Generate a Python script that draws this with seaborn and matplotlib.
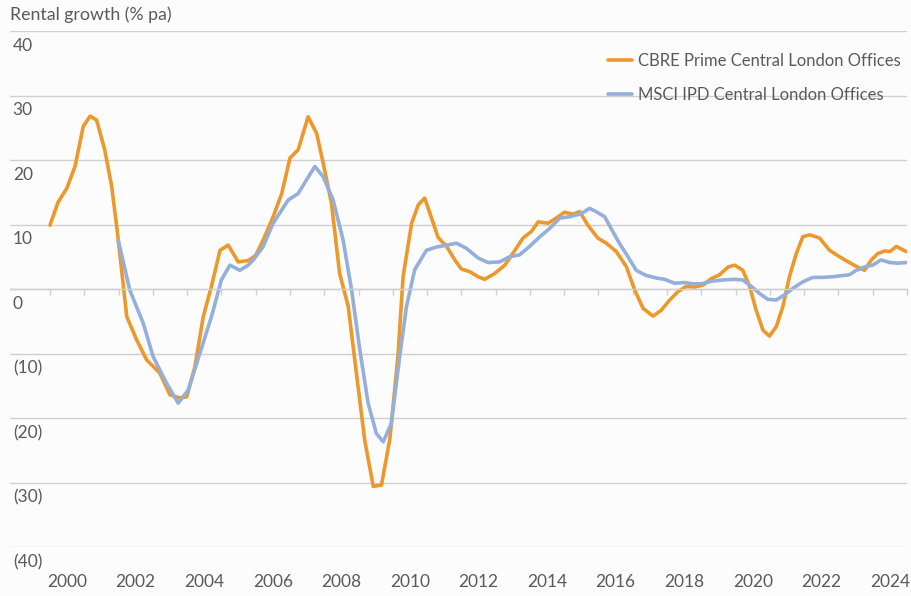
import numpy as np
import pandas as pd
import seaborn as sns
import matplotlib.pyplot as plt

# CBRE Prime Central London Offices - rental growth (% pa)
cbre_year = [2000.0, 2000.24, 2000.49, 2000.73, 2000.97, 2001.17, 2001.36, 2001.6, 2001.8, 2001.96,
             2002.09, 2002.24, 2002.53, 2002.82, 2003.2, 2003.5, 2003.79, 2003.99, 2004.23, 2004.47,
             2004.71, 2004.96, 2005.2, 2005.49, 2005.78, 2006.0, 2006.22, 2006.51, 2006.76, 2007.0,
             2007.24, 2007.53, 2007.78, 2007.97, 2008.21, 2008.45, 2008.7, 2008.94, 2009.18, 2009.43,
             2009.67, 2009.91, 2010.15, 2010.3, 2010.55, 2010.74, 2010.93, 2011.13, 2011.32, 2011.57,
             2011.81, 2012.0, 2012.24, 2012.49, 2012.68, 2012.97, 2013.27, 2013.56, 2013.8, 2014.04,
             2014.24, 2014.53, 2014.77, 2015.01, 2015.26, 2015.45, 2015.69, 2015.98, 2016.23, 2016.52,
             2016.81, 2017.06, 2017.3, 2017.59, 2017.83, 2018.08, 2018.32, 2018.56, 2018.8, 2019.05,
             2019.29, 2019.53, 2019.78, 2019.97, 2020.21, 2020.41, 2020.6, 2020.8, 2020.99, 2021.19,
             2021.38, 2021.57, 2021.77, 2021.96, 2022.16, 2022.45, 2022.74, 2023.03, 2023.32, 2023.56,
             2023.76, 2023.96, 2024.15, 2024.35, 2024.5, 2024.69, 2024.98]
cbre_growth = [9.9, 13.5, 15.6, 19.0, 25.2, 26.8, 26.2, 21.5, 15.9, 9.1,
               2.9, -4.3, -7.9, -11.0, -13.0, -16.4, -16.9, -16.7, -12.0, -4.3,
               0.4, 6.0, 6.8, 4.2, 4.4, 5.2, 7.6, 11.2, 14.8, 20.3,
               21.6, 26.7, 24.1, 19.5, 13.3, 2.4, -2.7, -13.1, -23.4, -30.6,
               -30.4, -23.4, -10.5, 1.9, 10.2, 13.0, 14.1, 11.0, 8.0, 6.6,
               4.5, 3.1, 2.7, 1.9, 1.5, 2.4, 3.7, 6.0, 7.9, 8.9,
               10.4, 10.2, 11.0, 11.9, 11.6, 12.0, 9.9, 7.9, 7.1, 5.8,
               3.5, -0.2, -3.0, -4.2, -3.3, -1.7, -0.4, 0.4, 0.3, 0.6,
               1.6, 2.2, 3.4, 3.7, 2.9, 0.4, -3.3, -6.4, -7.3, -5.8,
               -2.7, 1.9, 5.5, 8.1, 8.4, 7.9, 6.0, 5.0, 4.1, 3.4,
               2.9, 4.5, 5.5, 5.9, 5.8, 6.6, 5.8]

# MSCI IPD Central London Offices - rental growth (% pa)
msci_year = [2001.99, 2002.33, 2002.72, 2003.01, 2003.4, 2003.74, 2004.03, 2004.37, 2004.71, 2005.0,
             2005.25, 2005.54, 2005.78, 2005.93, 2006.22, 2006.51, 2006.95, 2007.24, 2007.48, 2007.73,
             2007.97, 2008.26, 2008.55, 2008.8, 2009.04, 2009.28, 2009.52, 2009.72, 2009.96, 2010.2,
             2010.4, 2010.64, 2010.98, 2011.27, 2011.57, 2011.86, 2012.15, 2012.49, 2012.78, 2013.12,
             2013.41, 2013.7, 2013.99, 2014.29, 2014.58, 2014.87, 2015.16, 2015.5, 2015.74, 2015.93,
             2016.18, 2016.42, 2016.62, 2016.86, 2017.1, 2017.39, 2017.69, 2017.93, 2018.22, 2018.51,
             2018.76, 2019.0, 2019.29, 2019.63, 2019.97, 2020.21, 2020.46, 2020.7, 2020.94, 2021.19,
             2021.43, 2021.67, 2021.96, 2022.25, 2022.54, 2022.84, 2023.13, 2023.32, 2023.52, 2023.81,
             2024.0, 2024.24, 2024.5, 2024.73, 2024.98]
msci_growth = [7.6, -0.2, -5.3, -10.5, -14.6, -17.7, -15.7, -10.0, -4.3, 1.4,
               3.7, 2.9, 3.7, 4.5, 6.6, 10.2, 13.8, 14.8, 16.9, 19.0,
               17.4, 13.8, 7.6, -0.2, -9.5, -17.7, -22.4, -23.7, -20.8, -10.5,
               -2.7, 3.0, 6.0, 6.5, 6.8, 7.1, 6.3, 4.8, 4.1, 4.2,
               5.0, 5.3, 6.6, 8.1, 9.4, 11.0, 11.2, 11.7, 12.5, 12.0,
               11.2, 8.9, 7.0, 5.0, 2.9, 2.1, 1.7, 1.5, 0.9, 1.0,
               0.8, 0.8, 1.2, 1.4, 1.5, 1.4, 0.4, -0.7, -1.6, -1.7,
               -0.9, 0.1, 1.1, 1.8, 1.8, 1.9, 2.1, 2.2, 2.9, 3.5,
               3.7, 4.5, 4.1, 4.0, 4.1]

y_ticks = [40, 30, 20, 10, 0, -10, -20, -30, -40]
y_labels = ['40', '30', '20', '10', '0', '(10)', '(20)', '(30)', '(40)']
year_labels = list(range(2000, 2025, 2))

ORANGE = '#EC982B'
BLUE = '#94AFD9'
GRID = '#cfcfcf'
TEXT = '#5a5a5a'
BG = '#fdfcfd'

sns.set_theme(style='white')
plt.rcParams['font.family'] = ['Lato', 'DejaVu Sans']

fig = plt.figure(figsize=(9.12, 5.96), dpi=100, facecolor=BG)
ax = fig.add_axes([10 / 912, 1 - 547 / 596, 897 / 912, 516 / 596])
ax.set_facecolor(BG)

cbre = pd.DataFrame({'year': cbre_year, 'growth': cbre_growth})
msci = pd.DataFrame({'year': msci_year, 'growth': msci_growth})
sns.lineplot(data=cbre, x='year', y='growth', color=ORANGE, lw=2.6, ax=ax,
             label='CBRE Prime Central London Offices', solid_joinstyle='round', solid_capstyle='round')
sns.lineplot(data=msci, x='year', y='growth', color=BLUE, lw=2.6, ax=ax,
             label='MSCI IPD Central London Offices', solid_joinstyle='round', solid_capstyle='round')

ax.set_xlim(2000 + (10 - 50) / 34.3, 2025)
ax.set_ylim(-40, 40)
ax.set_xlabel('')
ax.set_ylabel('')

# horizontal gridlines only
ax.set_yticks(y_ticks)
ax.yaxis.grid(True, color=GRID, lw=1)
ax.tick_params(axis='y', left=False, labelleft=False)
for s in ['left', 'right', 'top']:
    ax.spines[s].set_visible(False)

# year ticks hanging off the zero line
ax.spines['bottom'].set_position(('data', 0))
ax.spines['bottom'].set_color(GRID)
ax.spines['bottom'].set_linewidth(1)
ax.set_xticks(np.arange(2000, 2026))
ax.tick_params(axis='x', bottom=True, direction='out', length=4, width=1, color=GRID, labelbottom=False)

# y labels sit just under each gridline
for v, lab in zip(y_ticks, y_labels):
    ax.annotate(lab, xy=(0, v), xycoords=('axes fraction', 'data'), xytext=(2, -5),
                textcoords='offset points', ha='left', va='top', fontsize=12.5, color=TEXT)

# year labels centred in each year
sec = ax.secondary_xaxis(location=0)
sec.spines['bottom'].set_visible(False)
sec.set_xticks([y + 0.5 for y in year_labels])
sec.set_xticklabels([str(y) for y in year_labels])
sec.tick_params(axis='x', length=0, pad=19.5, labelsize=12.5, labelcolor=TEXT)

fig.text(10 / 912, 1 - 15 / 596, 'Rental growth (% pa)', ha='left', va='center', fontsize=12.8, color=TEXT)

leg = ax.legend(loc='upper left', bbox_to_anchor=(608 / 912, 1 - 53 / 596), bbox_transform=fig.transFigure,
                frameon=False, fontsize=12, handlelength=1.45, handletextpad=0.35, labelspacing=1.05,
                borderpad=0, borderaxespad=0)
for t in leg.get_texts():
    t.set_color(TEXT)

fig.savefig('out.png', dpi=100, facecolor=BG)
